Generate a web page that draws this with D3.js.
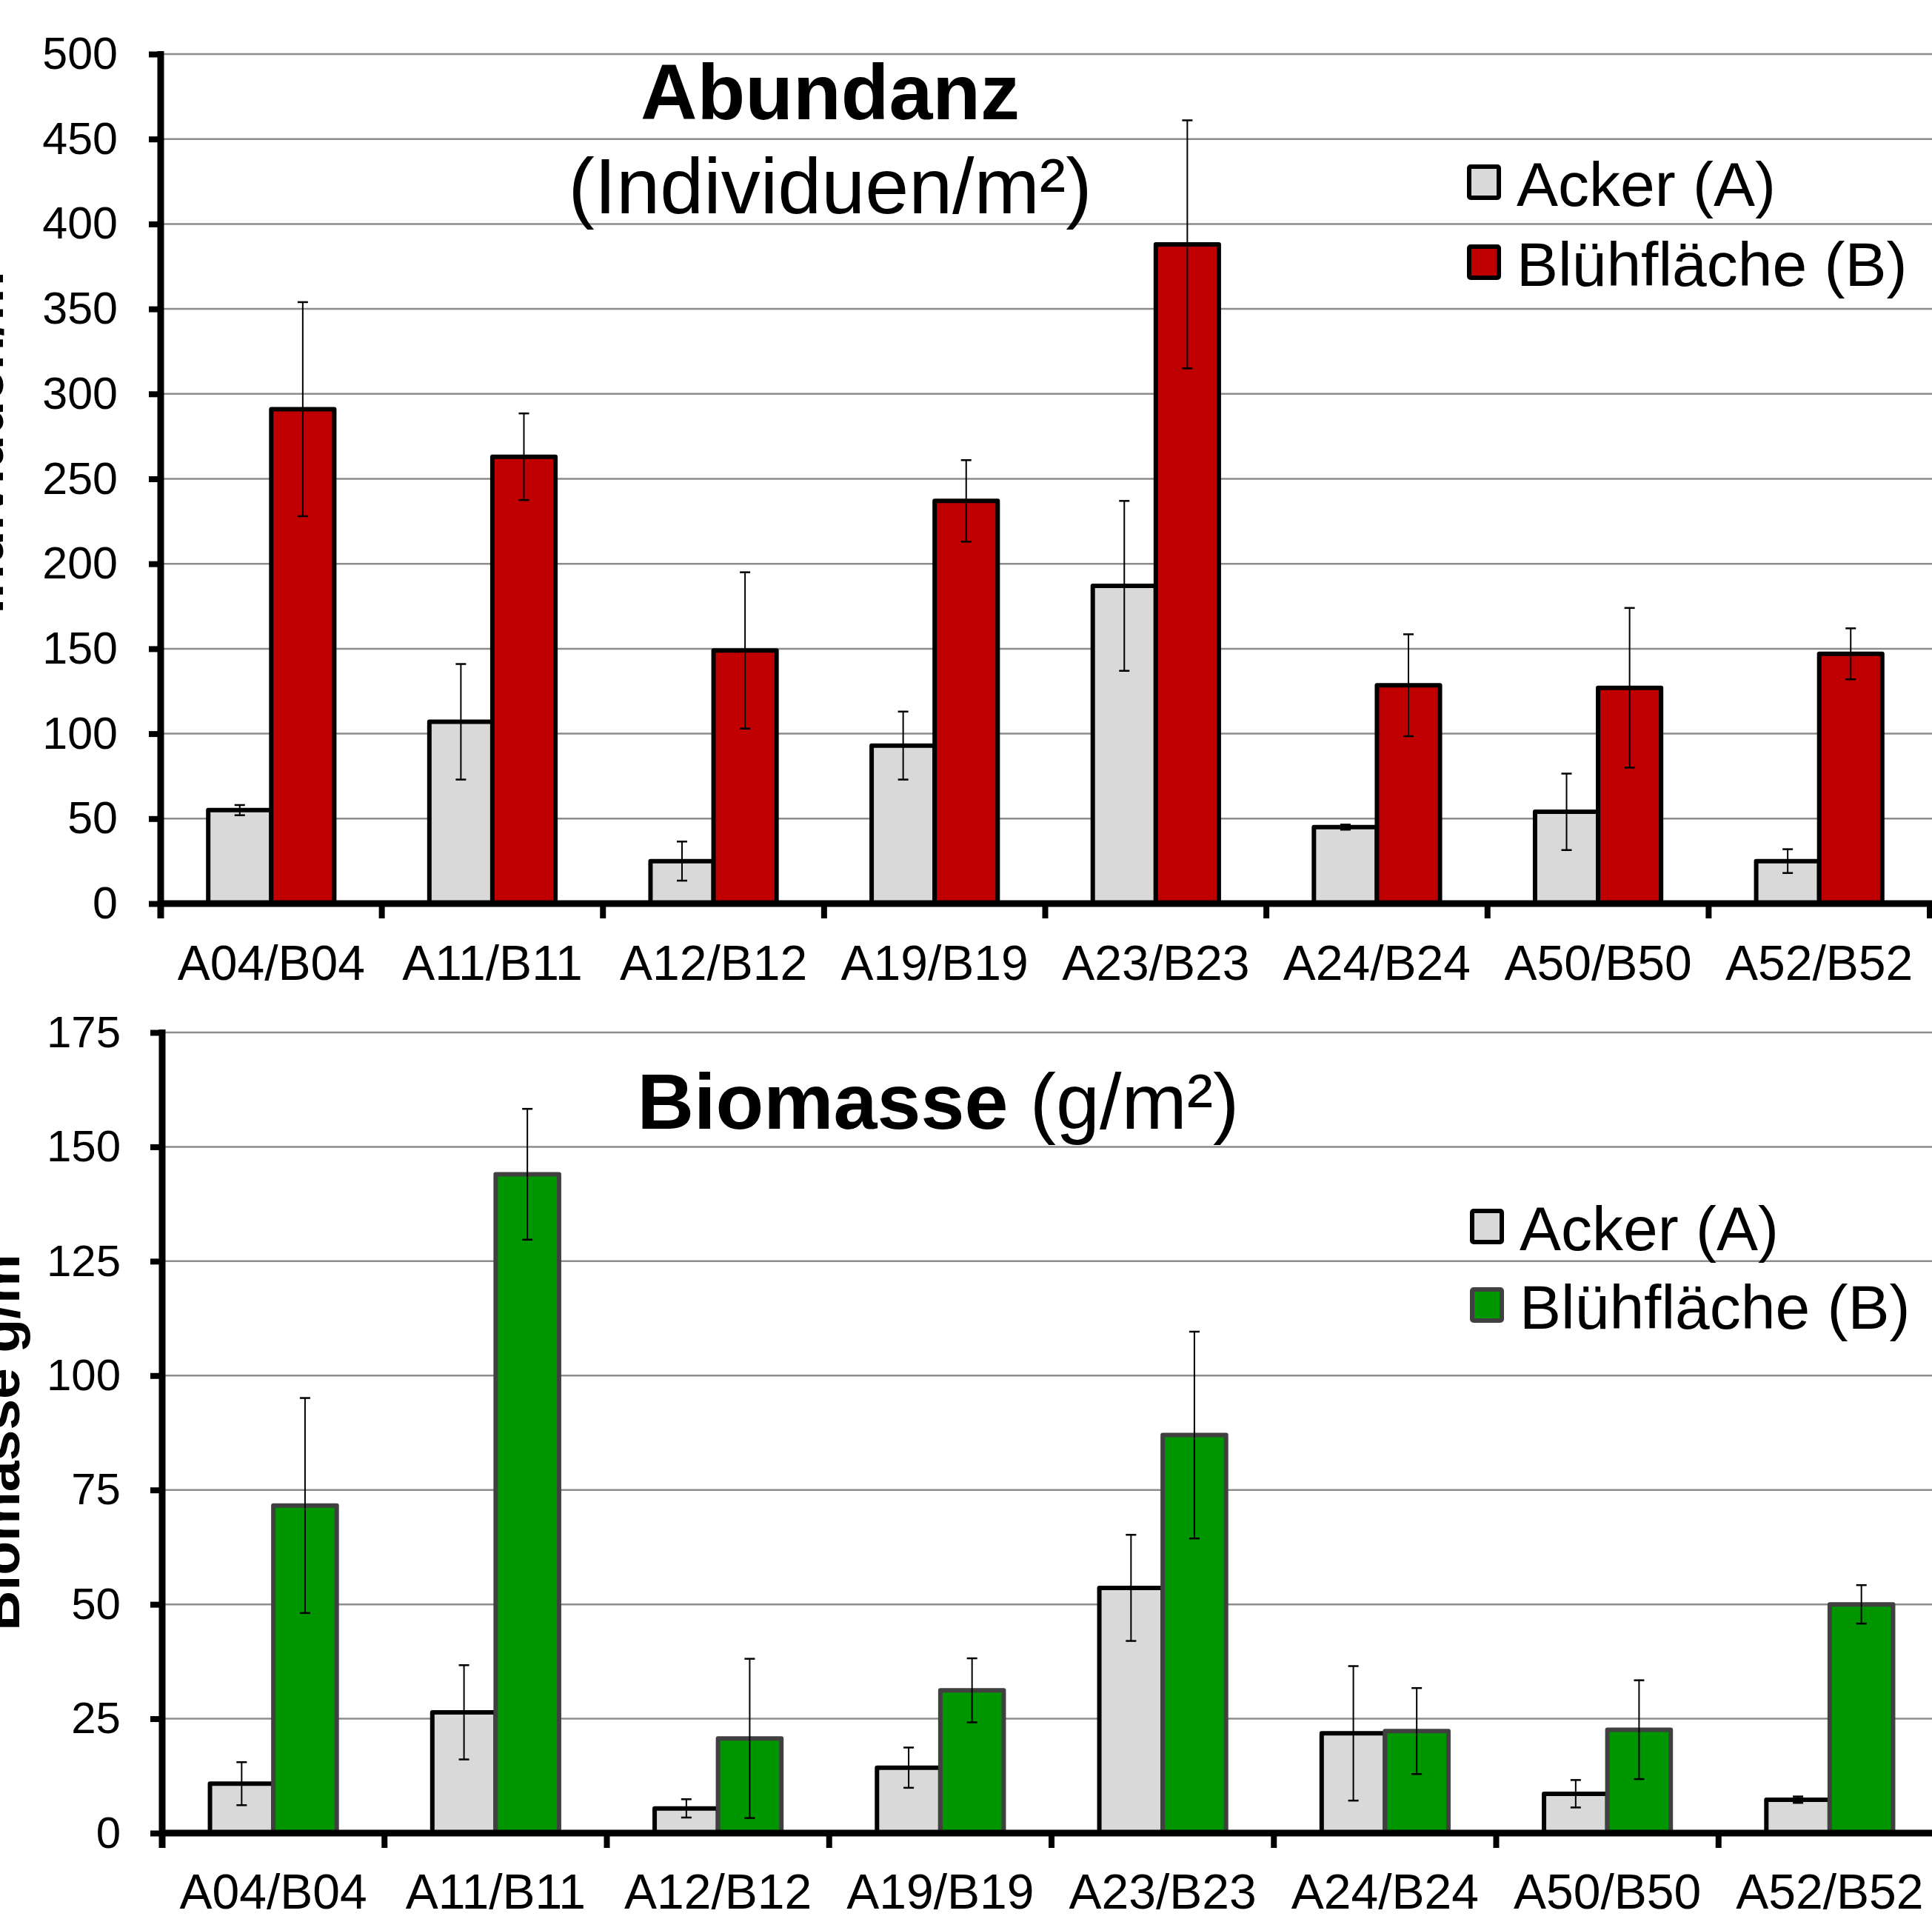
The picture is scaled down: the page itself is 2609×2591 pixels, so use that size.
<!DOCTYPE html>
<html>
<head>
<meta charset="utf-8">
<script src="https://cdn.jsdelivr.net/npm/d3@7"></script>
<style>
  body { margin: 0; background: #fff; }
  text { font-family: "Liberation Sans", Arial, sans-serif; }
</style>
</head>
<body>
<div id="chart"></div>
<script>
// sites (A = Acker, B = Blühfläche)
var sites = ["A04/B04", "A11/B11", "A12/B12", "A19/B19", "A23/B23", "A24/B24", "A50/B50", "A52/B52"];
var seriesNames = ["Acker (A)", "Blühfläche (B)"];

// Abundanz (Individuen/m²)
var abundAcker    = [55, 107, 25, 93, 187, 45, 54, 25];
var abundAckerErr = [3, 34, 11.5, 20, 50, 1.5, 22.5, 7];
var abundBluh     = [291, 263, 149, 237, 388, 128.5, 127, 147];
var abundBluhErr  = [63, 25.5, 46, 24, 73, 30, 47, 15];
var abundTicks    = [0, 50, 100, 150, 200, 250, 300, 350, 400, 450, 500];

// Biomasse (g/m²)
var bioAcker    = [10.8, 26.4, 5.4, 14.3, 53.6, 21.8, 8.6, 7.3];
var bioAckerErr = [4.7, 10.3, 2, 4.4, 11.6, 14.7, 3, 0.7];
var bioBluh     = [71.6, 144, 20.7, 31.2, 87, 22.3, 22.6, 50];
var bioBluhErr  = [23.5, 14.3, 17.4, 7, 22.6, 9.4, 10.8, 4.2];
var bioTicks    = [0, 25, 50, 75, 100, 125, 150, 175];

var width = 2609;
var height = 2591;

var svg = d3.select("#chart")
    .append("svg")
    .attr("width", width)
    .attr("height", height);

function drawPanel(p) {
    var g = svg.append("g");

    var x0 = d3.scaleBand()
        .domain(sites)
        .range([p.left, p.right])
        .padding(0);

    var x1 = d3.scaleBand()
        .domain(["A", "B"])
        .range([x0.bandwidth() * 0.215, x0.bandwidth() * 0.785]);

    var y = d3.scaleLinear()
        .domain([0, p.max])
        .range([p.bottom, p.top]);

    // gridlines
    g.selectAll(".grid")
        .data(p.ticks.slice(1))
        .enter().append("line")
        .attr("x1", p.left)
        .attr("x2", width)
        .attr("y1", function (d) { return y(d); })
        .attr("y2", function (d) { return y(d); })
        .style("stroke", "#8c8c8c")
        .style("stroke-width", 2.5);

    var rows = sites.map(function (s, i) {
        return [
            { site: s, key: "A", v: p.a[i], e: p.aErr[i] },
            { site: s, key: "B", v: p.b[i], e: p.bErr[i] }
        ];
    });

    var groups = g.selectAll(".grp")
        .data(rows)
        .enter().append("g")
        .attr("transform", function (d) { return "translate(" + x0(d[0].site) + ",0)"; });

    groups.selectAll("rect")
        .data(function (d) { return d; })
        .enter().append("rect")
        .attr("x", function (d) { return x1(d.key); })
        .attr("y", function (d) { return y(d.v); })
        .attr("width", x1.bandwidth())
        .attr("height", function (d) { return y(0) - y(d.v); })
        .style("fill", function (d) { return d.key == "A" ? "#d9d9d9" : p.colour; })
        .style("stroke", function (d) { return d.key == "A" ? "#000" : p.stroke; })
        .style("stroke-width", 6)
        .style("stroke-linejoin", "round");

    // error bars
    var err = groups.selectAll(".err")
        .data(function (d) { return d; })
        .enter().append("g")
        .attr("transform", function (d) { return "translate(" + (x1(d.key) + x1.bandwidth() / 2) + ",0)"; });

    err.append("line")
        .attr("y1", function (d) { return y(d.v + d.e); })
        .attr("y2", function (d) { return y(d.v - d.e); })
        .style("stroke", "#000").style("stroke-width", 2);
    err.append("line")
        .attr("x1", -7).attr("x2", 7)
        .attr("y1", function (d) { return y(d.v + d.e); })
        .attr("y2", function (d) { return y(d.v + d.e); })
        .style("stroke", "#000").style("stroke-width", 2.5);
    err.append("line")
        .attr("x1", -7).attr("x2", 7)
        .attr("y1", function (d) { return y(d.v - d.e); })
        .attr("y2", function (d) { return y(d.v - d.e); })
        .style("stroke", "#000").style("stroke-width", 2.5);

    // y axis
    var yAxis = g.append("g")
        .attr("transform", "translate(" + p.left + ",0)")
        .call(d3.axisLeft(y).tickValues(p.ticks).tickSize(16).tickSizeOuter(0).tickPadding(p.tickPad));
    yAxis.select(".domain").remove();
    yAxis.selectAll(".tick line").style("stroke", "#000").style("stroke-width", 8);
    yAxis.selectAll(".tick text")
        .style("font-size", p.tickFont + "px")
        .style("font-family", "'Liberation Sans', Arial, sans-serif")
        .attr("fill", "#000");
    g.append("line")
        .attr("x1", p.left).attr("x2", p.left)
        .attr("y1", p.top - 4).attr("y2", y(0) + 20)
        .style("stroke", "#000").style("stroke-width", 9);

    // x axis
    var xAxis = g.append("g")
        .attr("transform", "translate(0," + y(0) + ")")
        .call(d3.axisBottom(x0).tickSize(0).tickPadding(0));
    xAxis.select(".domain").remove();
    xAxis.selectAll(".tick text")
        .attr("y", p.labelDy)
        .attr("dy", 0)
        .style("font-size", "66px")
        .style("font-family", "'Liberation Sans', Arial, sans-serif")
        .attr("fill", "#000");
    g.append("line")
        .attr("x1", p.left - 4).attr("x2", p.right + 4)
        .attr("y1", y(0)).attr("y2", y(0))
        .style("stroke", "#000").style("stroke-width", 9);
    g.selectAll(".xtick")
        .data(sites.concat(["end"]))
        .enter().append("line")
        .attr("x1", function (d, i) { return i < sites.length ? x0(d) : p.right; })
        .attr("x2", function (d, i) { return i < sites.length ? x0(d) : p.right; })
        .attr("y1", y(0))
        .attr("y2", y(0) + 20)
        .style("stroke", "#000").style("stroke-width", 8);

    // titles
    var t = g.append("text")
        .attr("x", p.titleX)
        .attr("y", p.titleY)
        .attr("text-anchor", "middle")
        .style("font-size", "106px");
    t.append("tspan").style("font-weight", "bold").text(p.title1);
    if (p.title2inline) t.append("tspan").text(p.title2inline);
    if (p.title2) {
        g.append("text")
            .attr("x", p.titleX)
            .attr("y", p.title2Y)
            .attr("text-anchor", "middle")
            .style("font-size", "106px")
            .text(p.title2);
    }

    // y axis title (cut off at the left edge)
    g.append("text")
        .attr("transform", "translate(" + p.yTitleX + "," + p.yTitleY + ")rotate(-90)")
        .attr("text-anchor", "middle")
        .style("font-size", "75px")
        .style("font-weight", "bold")
        .text(p.yTitle);

    // legend
    var leg = g.selectAll(".leg")
        .data(seriesNames)
        .enter().append("g")
        .attr("transform", function (d, i) { return "translate(" + p.legX + "," + (p.legY + i * p.legStep) + ")"; });
    leg.append("rect")
        .attr("x", 0).attr("y", 0)
        .attr("width", 40).attr("height", 42)
        .attr("rx", 2)
        .style("fill", function (d, i) { return i == 0 ? "#d9d9d9" : p.colour; })
        .style("stroke", function (d, i) { return i == 0 ? "#000" : p.stroke; })
        .style("stroke-width", 6);
    leg.append("text")
        .attr("x", 64)
        .attr("y", 53)
        .style("font-size", "84px")
        .text(function (d) { return d; });
}

drawPanel({
    left: 217, right: 2606, top: 73, bottom: 1220,
    max: 500, ticks: abundTicks,
    a: abundAcker, aErr: abundAckerErr, b: abundBluh, bErr: abundBluhErr,
    colour: "#c00000", stroke: "#000",
    tickFont: 61, tickPad: 42, labelDy: 103,
    title1: "Abundanz", titleX: 1121, titleY: 161,
    title2: "(Individuen/m²)", title2Y: 288,
    yTitle: "Individuen/m²", yTitleX: 4, yTitleY: 585,
    legX: 1984, legY: 225, legStep: 108
});

drawPanel({
    left: 219, right: 2621, top: 1394, bottom: 2475,
    max: 175, ticks: bioTicks,
    a: bioAcker, aErr: bioAckerErr, b: bioBluh, bErr: bioBluhErr,
    colour: "#009600", stroke: "#404040",
    tickFont: 60, tickPad: 40, labelDy: 102,
    title1: "Biomasse", title2inline: " (g/m²)", titleX: 1267, titleY: 1524,
    yTitle: "Biomasse g/m²", yTitleX: 26, yTitleY: 1935,
    legX: 1988, legY: 1635, legStep: 106
});
</script>
</body>
</html>
